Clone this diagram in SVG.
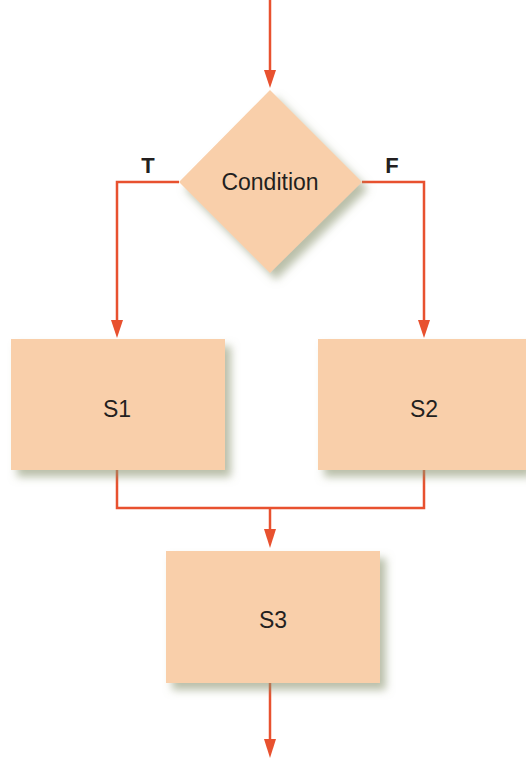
<svg xmlns="http://www.w3.org/2000/svg" width="526" height="758" viewBox="0 0 526 758">
<defs>
<filter id="sh" x="-10%" y="-10%" width="130%" height="140%">
<feDropShadow dx="6" dy="7" stdDeviation="4" flood-color="#8c9470" flood-opacity="0.6"/>
</filter>
</defs>
<style>
.box{fill:#F9CFAA;filter:url(#sh)}
.lbl{font-family:"Liberation Sans",Arial,sans-serif;font-size:23px;fill:#231f20;text-anchor:middle}
.tf{font-family:"Liberation Sans",Arial,sans-serif;font-size:22px;font-weight:bold;fill:#231f20;text-anchor:middle}
.ln{fill:none;stroke:#E8512F;stroke-width:2.5}
.ah{fill:#E8512F}
</style>
<g id="connectors">
<path class="ln" d="M270,0 V70"/>
<path class="ah" d="M264,70 L276,70 L270,88 Z"/>
<path class="ln" d="M179,182 H117 V320"/>
<path class="ah" d="M111,320 L123,320 L117,338 Z"/>
<path class="ln" d="M362,182 H424 V320"/>
<path class="ah" d="M418,320 L430,320 L424,338 Z"/>
<path class="ln" d="M117,470 V508 H424 V470"/>
<path class="ln" d="M270,508 V530"/>
<path class="ah" d="M264,529 L276,529 L270,548 Z"/>
<path class="ln" d="M270,683 V740"/>
<path class="ah" d="M264,739 L276,739 L270,758 Z"/>
<text class="tf" x="148" y="173">T</text>
<text class="tf" x="392" y="173">F</text>
</g>
<g id="condition">
<path class="box" d="M270,90 L362,182 L270,273 L179,182 Z"/>
<text class="lbl" x="270" y="190">Condition</text>
</g>
<g id="s1">
<rect class="box" x="11" y="339" width="214" height="131"/>
<text class="lbl" x="117" y="417">S1</text>
</g>
<g id="s2">
<rect class="box" x="318" y="339" width="208" height="131"/>
<text class="lbl" x="424" y="417">S2</text>
</g>
<g id="s3">
<rect class="box" x="166" y="551" width="214" height="132"/>
<text class="lbl" x="273" y="628">S3</text>
</g>
</svg>
